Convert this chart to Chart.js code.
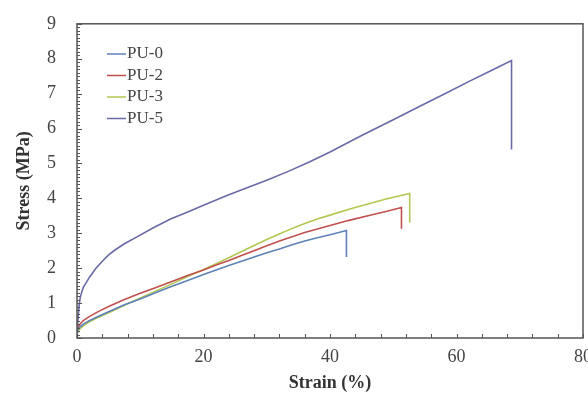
<!DOCTYPE html>
<html>
<head>
<meta charset="utf-8">
<script src="https://cdn.jsdelivr.net/npm/chart.js@4/dist/chart.umd.min.js"></script>
<style>
  html, body { margin: 0; padding: 0; background: #fff; }
  #wrap { width: 588px; height: 398px; }
</style>
</head>
<body>
<div id="wrap"><canvas id="c"></canvas></div>
<script>
// stress-strain curves, [strain %, stress MPa]
const pu0 = [[0,0.2],[0.5,0.32],[1,0.4],[2,0.5],[3.5,0.63],[5,0.75],[7.5,0.95],[10,1.12],[12.5,1.3],[15,1.48],[17.5,1.65],[20,1.82],[22,1.95],[24,2.08],[26,2.2],[28,2.32],[30,2.44],[32,2.55],[34,2.67],[36,2.78],[38,2.87],[40,2.96],[42.6,3.08],[42.6,2.32]];
const pu2 = [[0,0.25],[0.5,0.4],[1,0.5],[2,0.62],[3.5,0.77],[5,0.9],[7.5,1.1],[10,1.28],[12.5,1.45],[15,1.62],[17.5,1.79],[20,1.95],[22,2.09],[24,2.22],[26,2.36],[28,2.5],[30,2.64],[32,2.78],[34,2.9],[36,3.02],[38,3.12],[40,3.22],[43,3.37],[46,3.5],[49,3.63],[51.3,3.74],[51.3,3.13]];
const pu3 = [[0,0.15],[0.5,0.27],[1,0.35],[2,0.47],[3.5,0.6],[5,0.72],[7.5,0.94],[10,1.15],[12.5,1.35],[15,1.55],[17.5,1.76],[20,1.96],[22,2.13],[24,2.3],[26,2.48],[28,2.65],[30,2.82],[32,2.98],[34,3.14],[36,3.28],[38,3.41],[40,3.52],[43,3.69],[46,3.84],[49,3.99],[52.6,4.14],[52.6,3.31]];
const pu5 = [[0,0.15],[0.1,0.4],[0.2,0.65],[0.35,0.95],[0.5,1.15],[0.75,1.32],[1,1.45],[1.5,1.6],[2,1.75],[3,2.0],[4,2.2],[5,2.38],[6,2.52],[7.5,2.7],[9.4,2.89],[12,3.15],[14.7,3.4],[17.5,3.61],[20,3.8],[22,3.95],[24,4.1],[27,4.31],[30,4.52],[33.5,4.78],[36.8,5.05],[40,5.33],[45,5.8],[50,6.25],[54.2,6.64],[58,6.98],[62,7.35],[65.5,7.66],[68.7,7.95],[68.7,5.4]];

const seriesNames = ['PU-0', 'PU-2', 'PU-3', 'PU-5'];
const seriesColors = ['#5e82b8', '#c0504d', '#b2c853', '#6a6aa8'];
const xTicks = [0, 20, 40, 60, 80];
const yTicks = [0, 1, 2, 3, 4, 5, 6, 7, 8, 9];

const serif = '"Liberation Serif", "DejaVu Serif", serif';

const toXY = arr => arr.map(p => ({ x: p[0], y: p[1] }));

// frame + tick marks + inset legend
const decor = {
  id: 'decor',
  afterDraw(chart) {
    const ctx = chart.ctx;
    const a = chart.chartArea;
    const xs = chart.scales.x, ys = chart.scales.y;
    ctx.save();
    ctx.strokeStyle = '#555';
    ctx.lineWidth = 1.5;
    ctx.strokeRect(a.left, a.top, a.right - a.left, a.bottom - a.top);
    ctx.lineWidth = 1;
    // y ticks (minor every 0.1, major every 1)
    for (let i = 0; i <= 90; i++) {
      const py = Math.round(ys.getPixelForValue(i / 10)) + 0.5;
      const len = i % 10 === 0 ? 5 : 3;
      ctx.beginPath();
      ctx.moveTo(a.left, py);
      ctx.lineTo(a.left + len, py);
      ctx.stroke();
    }
    // x ticks every 4
    for (let v = 0; v <= 80; v += 4) {
      const px = Math.round(xs.getPixelForValue(v)) + 0.5;
      ctx.beginPath();
      ctx.moveTo(px, a.bottom);
      ctx.lineTo(px, a.bottom - 4);
      ctx.stroke();
    }
    // legend
    ctx.font = '17px ' + serif;
    ctx.textBaseline = 'middle';
    chart.data.datasets.forEach((ds, i) => {
      const y = 54 + i * 21.5;
      ctx.strokeStyle = ds.borderColor;
      ctx.lineWidth = 1.5;
      ctx.beginPath();
      ctx.moveTo(107, y);
      ctx.lineTo(126, y);
      ctx.stroke();
      ctx.fillStyle = '#444';
      ctx.fillText(ds.label, 127, y);
    });
    ctx.restore();
  }
};

new Chart(document.getElementById('c'), {
  type: 'scatter',
  data: {
    datasets: [pu0, pu2, pu3, pu5].map((d, i) => ({
      label: seriesNames[i],
      data: toXY(d),
      showLine: true,
      borderColor: seriesColors[i],
      backgroundColor: seriesColors[i],
      borderWidth: 1.6,
      pointRadius: 0,
      tension: 0
    }))
  },
  options: {
    responsive: true,
    maintainAspectRatio: false,
    animation: false,
    layout: { padding: { top: 22, right: 5, left: 0, bottom: 0 } },
    plugins: { legend: { display: false }, tooltip: { enabled: false } },
    scales: {
      x: {
        type: 'linear',
        min: 0, max: 80,
        afterBuildTicks: s => { s.ticks = xTicks.map(v => ({ value: v })); },
        afterFit: s => { s.height = 60; s.paddingRight = 0; s.paddingLeft = 0; },
        grid: { display: false },
        border: { display: false },
        ticks: { color: '#444', padding: 0, font: { family: serif, size: 18 } },
        title: { display: true, text: 'Strain (%)', color: '#333', padding: { top: 2 }, font: { family: serif, size: 18, weight: 'bold' } }
      },
      y: {
        type: 'linear',
        min: 0, max: 9,
        afterBuildTicks: s => { s.ticks = yTicks.map(v => ({ value: v })); },
        afterFit: s => { s.width = 77; },
        grid: { display: false },
        border: { display: false },
        ticks: { color: '#444', padding: 13, font: { family: serif, size: 18 } },
        title: { display: true, text: 'Stress (MPa)', color: '#333', padding: { top: 14 }, font: { family: serif, size: 18, weight: 'bold' } }
      }
    }
  },
  plugins: [decor]
});
</script>
</body>
</html>
